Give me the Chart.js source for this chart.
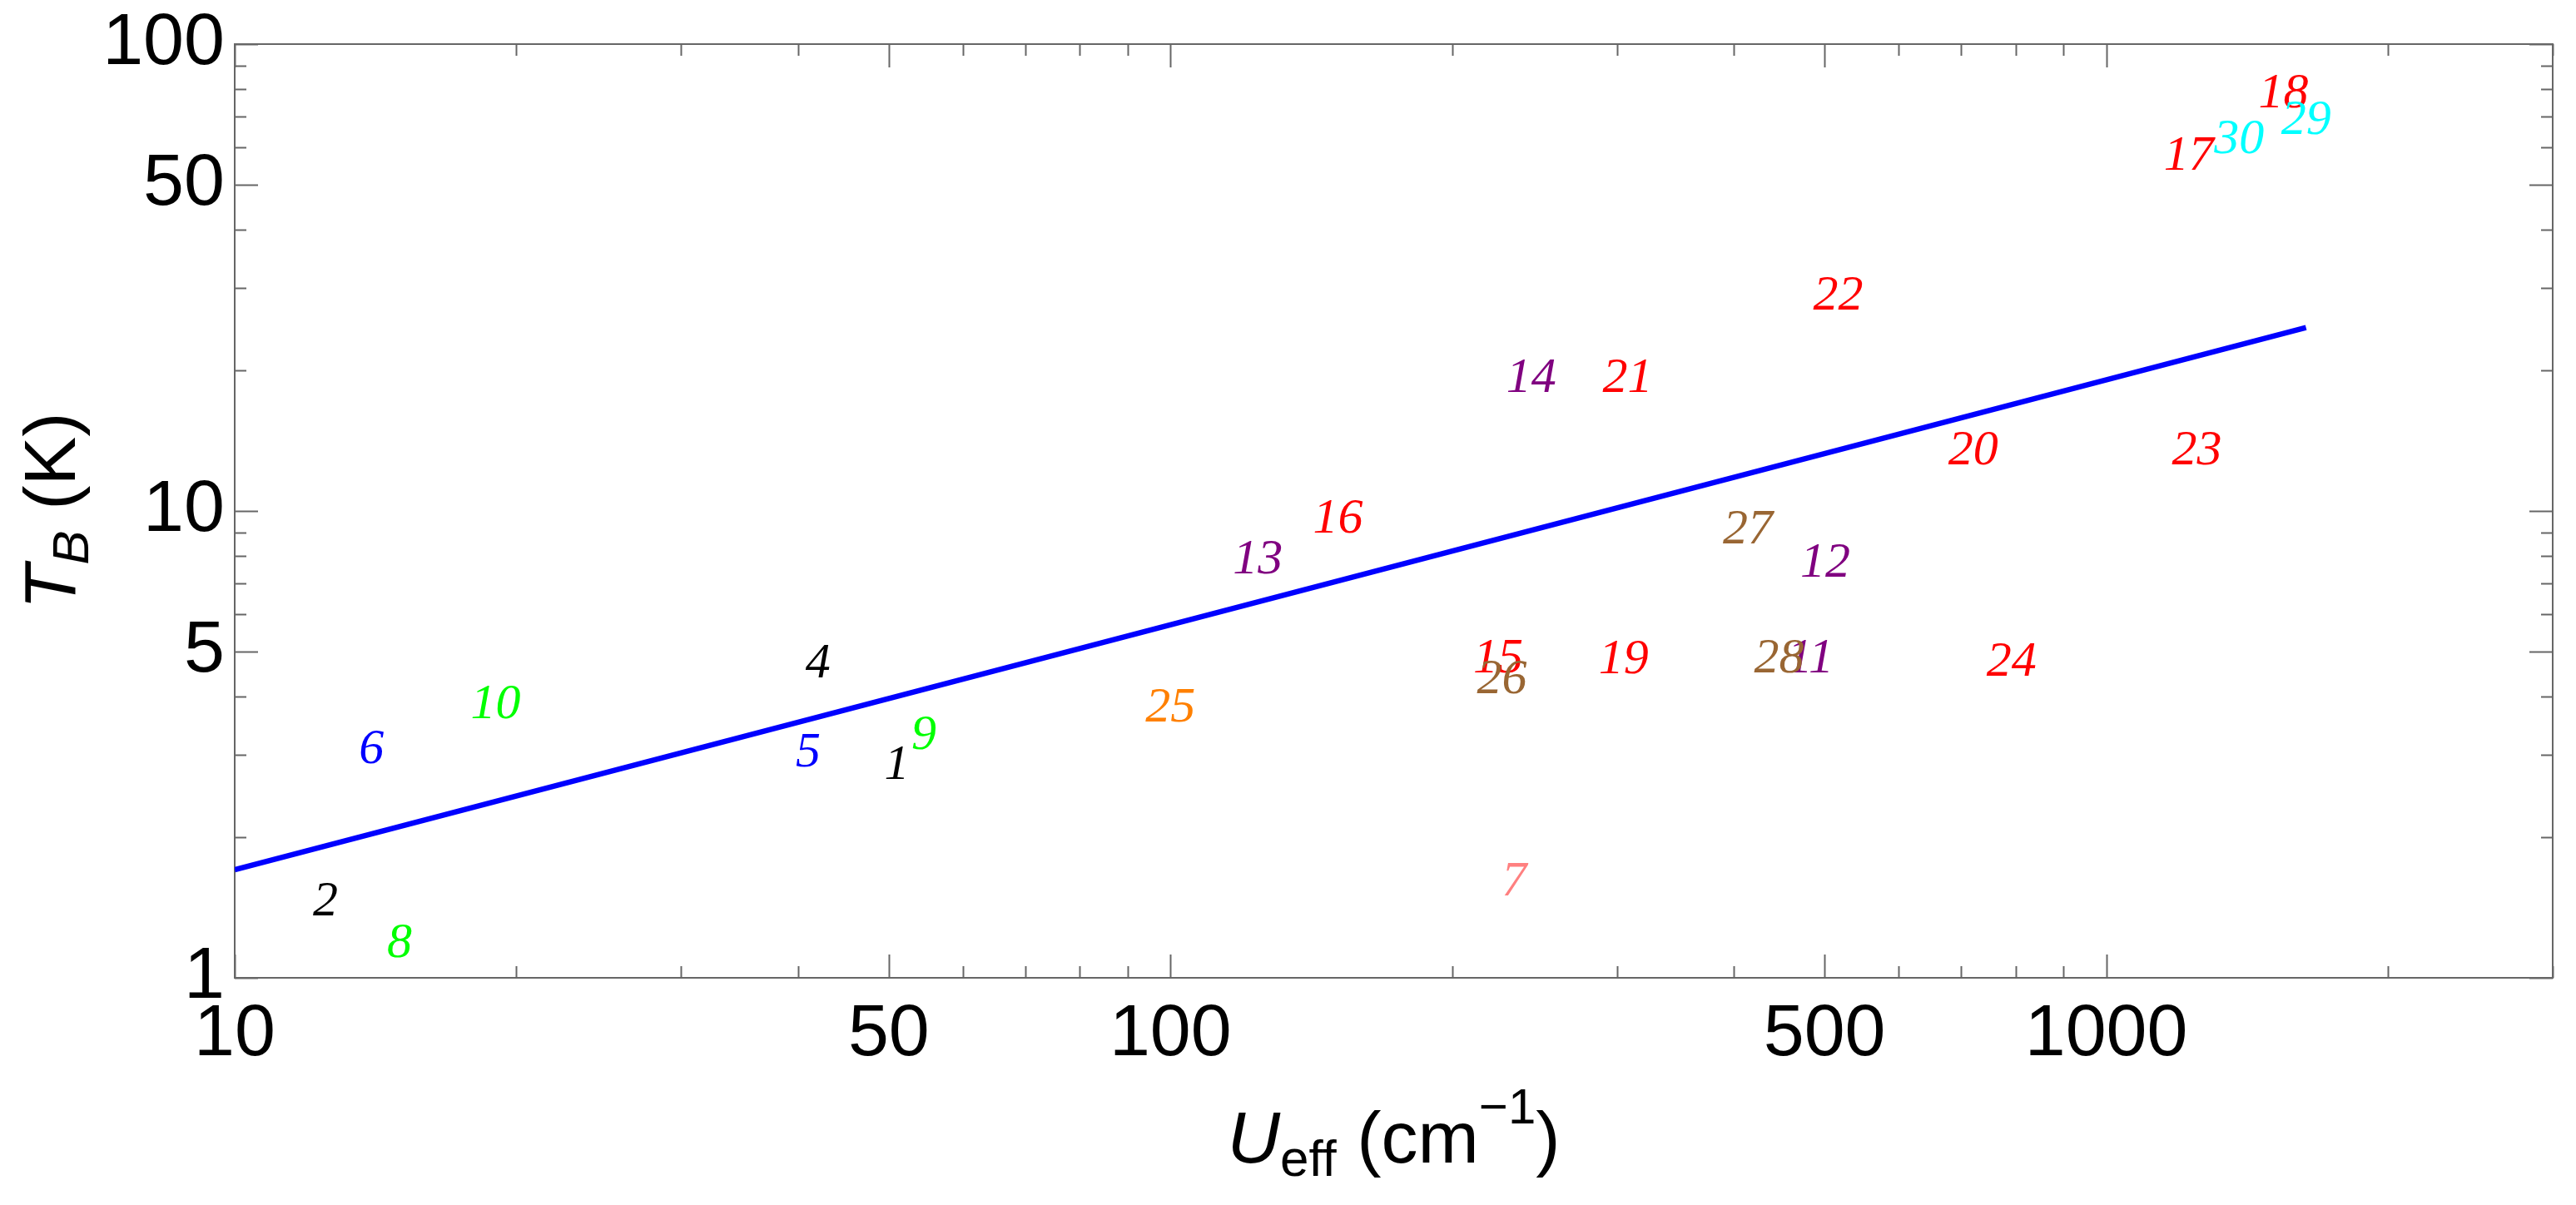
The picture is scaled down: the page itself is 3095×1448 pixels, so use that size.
<!DOCTYPE html>
<html>
<head>
<meta charset="utf-8">
<script src="https://cdn.jsdelivr.net/npm/chart.js@4.4.1/dist/chart.umd.min.js"></script>
<style>
  html, body { margin: 0; padding: 0; background: #fff; }
  #wrap { width: 3095px; height: 1448px; }
</style>
</head>
<body>
<div id="wrap"><canvas id="chart"></canvas></div>
<script>
// Compound numbers with U_eff (cm^-1) and T_B (K)
const compoundIds = ["1", "2", "4", "5", "6", "7", "8", "9", "10", "11", "12", "13", "14", "15",
  "16", "17", "18", "19", "20", "21", "22", "23", "24", "25", "26", "27", "28", "29", "30"];
const ueffValues = [51, 12.5, 42, 41, 14, 233, 15, 54.5, 19, 483, 501, 124, 243, 224,
  151, 1225, 1547, 305, 721, 308, 517, 1250, 792, 100, 226, 414, 447, 1635, 1387];
const tbValues = [2.84, 1.45, 4.7, 3.03, 3.08, 1.6, 1.18, 3.3, 3.84, 4.82, 7.72, 7.85, 19.2, 4.82,
  9.6, 57.5, 78.2, 4.8, 13.4, 19.2, 28.8, 13.4, 4.74, 3.78, 4.35, 9.1, 4.82, 68.5, 62.4];
const compoundGroup = ["A", "A", "A", "B", "B", "C", "D", "D", "D", "E", "E", "E", "E", "F",
  "F", "F", "F", "F", "F", "F", "F", "F", "F", "G", "H", "H", "H", "I", "I"];

// Power-law fit line end points
const fitUeff = [10, 1635];
const fitTb = [1.705, 24.7];

// Axis ticks
const xTickLabels = [10, 50, 100, 500, 1000];
const xMinorTicks = [20, 30, 40, 60, 70, 80, 90, 200, 300, 400, 600, 700, 800, 900, 2000, 3000];
const yTickLabels = [1, 5, 10, 50, 100];
const yMinorTicks = [2, 3, 4, 6, 7, 8, 9, 20, 30, 40, 60, 70, 80, 90];

// Styles
const groupColors = {
  A: "#000000", B: "#0000ff", C: "#ff8080", D: "#00ff00", E: "#800080",
  F: "#ff0000", G: "#ff8000", H: "#996633", I: "#00ffff",
};
const frameColor = "#666666";
const sansFont = "'Liberation Sans', Arial, sans-serif";
const serifFont = "'Liberation Serif', 'Times New Roman', serif";

// Inward ticks on all four sides plus the frame
const frameTicks = {
  id: "frameTicks",
  beforeDatasetsDraw(chart) {
    const { ctx, chartArea: a, scales } = chart;
    ctx.save();
    ctx.strokeStyle = frameColor;
    ctx.lineWidth = 2;
    const seg = (x1, y1, x2, y2) => {
      ctx.beginPath();
      ctx.moveTo(x1, y1);
      ctx.lineTo(x2, y2);
      ctx.stroke();
    };
    const xMarks = (vals, len) => vals.forEach((v) => {
      const px = Math.round(scales.x.getPixelForValue(v)) + 0.5;
      seg(px, a.bottom, px, a.bottom - len);
      seg(px, a.top, px, a.top + len);
    });
    const yMarks = (vals, len) => vals.forEach((v) => {
      const py = Math.round(scales.y.getPixelForValue(v)) + 0.5;
      seg(a.left, py, a.left + len, py);
      seg(a.right, py, a.right - len, py);
    });
    xMarks(xTickLabels, 28);
    xMarks(xMinorTicks, 14);
    yMarks(yTickLabels, 28);
    yMarks(yMinorTicks, 14);
    ctx.strokeRect(a.left, a.top, a.right - a.left, a.bottom - a.top);
    ctx.restore();
  },
};

// Compound numbers drawn at their data points
const numberLabels = {
  id: "numberLabels",
  afterDatasetsDraw(chart) {
    const { ctx } = chart;
    const meta = chart.getDatasetMeta(1);
    ctx.save();
    ctx.font = "italic 60px " + serifFont;
    ctx.textAlign = "center";
    ctx.textBaseline = "middle";
    meta.data.forEach((pt, i) => {
      ctx.fillStyle = groupColors[compoundGroup[i]];
      ctx.fillText(compoundIds[i], pt.x, pt.y);
    });
    ctx.restore();
  },
};

// Draws text pieces (with sub/superscripts) centred on x
const drawRich = (ctx, parts, x, y) => {
  const fontOf = (p) => (p.italic ? "italic " : "") + p.size + "px " + sansFont;
  let total = 0;
  parts.forEach((p) => {
    ctx.font = fontOf(p);
    p.w = ctx.measureText(p.t).width;
    total += p.w;
  });
  let cx = x - total / 2;
  parts.forEach((p) => {
    ctx.font = fontOf(p);
    ctx.fillText(p.t, cx, y + (p.dy || 0));
    cx += p.w;
  });
};

const axisTitles = {
  id: "axisTitles",
  afterDraw(chart) {
    const { ctx, chartArea: a } = chart;
    ctx.save();
    ctx.fillStyle = "#000";
    ctx.textBaseline = "alphabetic";
    ctx.textAlign = "left";
    drawRich(ctx, [
      { t: "U", size: 88, italic: true },
      { t: "eff", size: 62, dy: 16 },
      { t: " (cm", size: 88 },
      { t: "\u22121", size: 60, dy: -47 },
      { t: ")", size: 88 },
    ], (a.left + a.right) / 2, a.bottom + 222);
    ctx.translate(a.left - 192, (a.top + a.bottom) / 2);
    ctx.rotate(-Math.PI / 2);
    drawRich(ctx, [
      { t: "T", size: 88, italic: true },
      { t: "B", size: 62, italic: true, dy: 16 },
      { t: " (K)", size: 88 },
    ], 0, 0);
    ctx.restore();
  },
};

const ctx = document.getElementById("chart").getContext("2d");
new Chart(ctx, {
  type: "scatter",
  data: {
    datasets: [
      {
        type: "line",
        data: fitUeff.map((u, i) => ({ x: u, y: fitTb[i] })),
        borderColor: "#0000ff",
        borderWidth: 6.5,
        pointRadius: 0,
        fill: false,
        tension: 0,
      },
      {
        data: ueffValues.map((u, i) => ({ x: u, y: tbValues[i] })),
        pointRadius: 0,
        pointHoverRadius: 0,
        pointBackgroundColor: compoundGroup.map((g) => groupColors[g]),
      },
    ],
  },
  options: {
    responsive: true,
    maintainAspectRatio: false,
    devicePixelRatio: 1,
    animation: false,
    events: [],
    layout: { padding: { top: 53, right: 28, left: 0, bottom: 0 } },
    plugins: {
      legend: { display: false },
      tooltip: { enabled: false },
    },
    scales: {
      x: {
        type: "logarithmic",
        min: 10,
        max: 3000,
        grid: { display: false, drawTicks: false },
        border: { display: false },
        afterBuildTicks: (axis) => {
          axis.ticks = xTickLabels.map((v) => ({ value: v }));
        },
        afterFit: (axis) => {
          axis.height = 273;
          axis.paddingLeft = 0;
          axis.paddingRight = 0;
        },
        ticks: {
          autoSkip: false,
          maxRotation: 0,
          padding: 16,
          color: "#000",
          font: { family: sansFont, size: 88 },
          callback: (v) => String(v),
        },
      },
      y: {
        type: "logarithmic",
        min: 1,
        max: 100,
        grid: { display: false, drawTicks: false },
        border: { display: false },
        afterBuildTicks: (axis) => {
          axis.ticks = yTickLabels.map((v) => ({ value: v }));
        },
        afterFit: (axis) => {
          axis.width = 282;
          axis.paddingTop = 0;
          axis.paddingBottom = 0;
        },
        ticks: {
          autoSkip: false,
          padding: 12,
          color: "#000",
          font: { family: sansFont, size: 88 },
          callback: (v) => String(v),
        },
      },
    },
  },
  plugins: [frameTicks, numberLabels, axisTitles],
});
</script>
</body>
</html>
